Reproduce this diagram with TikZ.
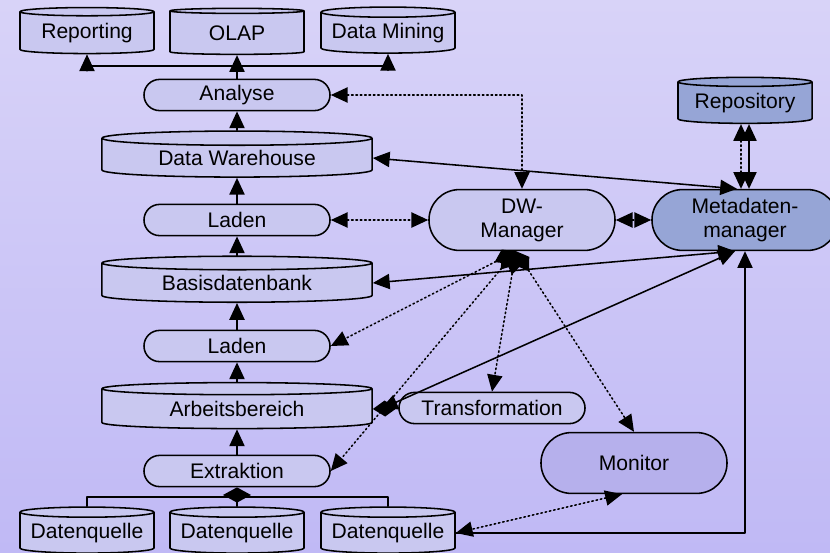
\documentclass[tikz,border=0pt]{standalone}
\usepackage{fontspec}
\setmainfont{Liberation Sans}
\usepackage{tikz}
\usetikzlibrary{arrows,arrows.meta}
\usetikzlibrary{shapes.geometric,shapes.misc}

\definecolor{bgtop}{RGB}{216,211,248}
\definecolor{bgbottom}{RGB}{192,185,245}
\definecolor{boxfill}{RGB}{201,200,240}
\definecolor{metafill}{RGB}{150,165,214}
\definecolor{monfill}{RGB}{182,176,236}

\tikzset{
  store/.style={cylinder, shape border rotate=90, aspect=0.09, draw, fill=boxfill,
    minimum width=3.35cm, minimum height=1.15cm, inner sep=0pt},
  widestore/.style={store, minimum width=6.75cm},
  proc/.style={rounded rectangle, draw, fill=boxfill, minimum width=4.65cm,
    minimum height=0.78cm, inner sep=0pt},
  mgr/.style={rounded rectangle, draw, minimum width=4.65cm, minimum height=1.52cm,
    inner sep=0pt, align=center},
  dia/.tip={Diamond[length=0.6cm,width=0.4cm]},
  flatdia/.tip={Diamond[length=0.38cm,width=0.7cm]},
  ctrl/.style={dotted, <->},
  data/.style={<->}
}

\begin{document}
\begin{tikzpicture}[line cap=round,line join=round,>={Triangle[length=0.42cm,width=0.38cm]},
    x=0.025cm,y=-0.025cm,line width=1.1pt,font=\fontsize{15}{17}\selectfont]
        \useasboundingbox (0,0) rectangle (830,553);
        \shade[top color=bgtop,bottom color=bgbottom] (0,0) rectangle (830,553);
        \clip (0,0) rectangle (830,553);
        % Frontend
        \node[store] (rep) at (87,33) {Reporting};
        \node[store] (olap) at (237,33) {OLAP};
        \node[store] (mining) at (388,33) {Data Mining};
        \node[proc] (ana) at (237,95) {Analyse};
        % Datenhaltung
        \node[widestore] (dw) at (237,158) {Data Warehouse};
        \node[proc] (lad1) at (237,220) {Laden};
        \node[widestore] (bdb) at (237,283) {Basisdatenbank};
        \node[proc] (lad2) at (237,346) {Laden};
        \node[widestore] (arb) at (237,409) {Arbeitsbereich};
        \node[proc] (ext) at (237,471) {Extraktion};
        \node[store] (dq1) at (87,533) {Datenquelle};
        \node[store] (dq2) at (237,533) {Datenquelle};
        \node[store] (dq3) at (388,533) {Datenquelle};
        % Steuerung
        \node[mgr,fill=boxfill] (dwm) at (522,220) {DW-\\Manager};
        \node[mgr,fill=metafill] (mdm) at (745,220) {Metadaten-\\manager};
        \node[store,fill=metafill] (repo) at (745,103) {Repository};
        \node[proc] (trans) at (492,408) {Transformation};
        \node[mgr,fill=monfill] (mon) at (634,463) {Monitor};
        \coordinate (fork) at (237,66);
        \coordinate (join) at (237,497);
        % Datenfluss
        \draw[->] (ana.north) -- (olap.south);
        \draw[->] (fork) -| (rep.south);
        \draw[->] (fork) -| (mining.south);
        \foreach \a/\b in {dw/ana,lad1/dw,bdb/lad1,lad2/bdb,arb/lad2,ext/arb}
        \draw[->] (\a.north) -- (\b.south);
        \draw[flatdia-] (ext.south) -- (dq2.north);
        \draw (dq1.north) |- (join) -| (dq3.north);
        \draw[dia-] (arb.east) -- (trans.west);
        % Steuerfluss
        \draw[ctrl] (ana.east) -| (dwm.north);
        \draw[ctrl] (lad1.east) -- (dwm.west);
        \draw[ctrl] (dwm.east) -- (mdm.west);
        \foreach \t in {lad2.east,ext.east,trans.north,mon.north}
        \draw[dotted,dia->] ([xshift=-0.15cm]dwm.south) -- (\t);
        \draw[ctrl] ([xshift=-0.3cm]mon.south) -- (dq3.east);
        % Metadaten
        \draw[data] (dw.east) -- ([xshift=-0.2cm]mdm.north);
        \draw[data] (bdb.east) -- ([xshift=-0.25cm]mdm.south);
        \draw[data] ([xshift=0.2cm]arb.east) -- ([xshift=-0.25cm]mdm.south);
        \draw[->] (dq3.east) -| (mdm.south);
        \draw[ctrl] ([xshift=-0.1cm]repo.south) -- ([xshift=-0.1cm]mdm.north);
        \draw[data] ([xshift=0.1cm]repo.south) -- ([xshift=0.1cm]mdm.north);
      \end{tikzpicture}
\end{document}
